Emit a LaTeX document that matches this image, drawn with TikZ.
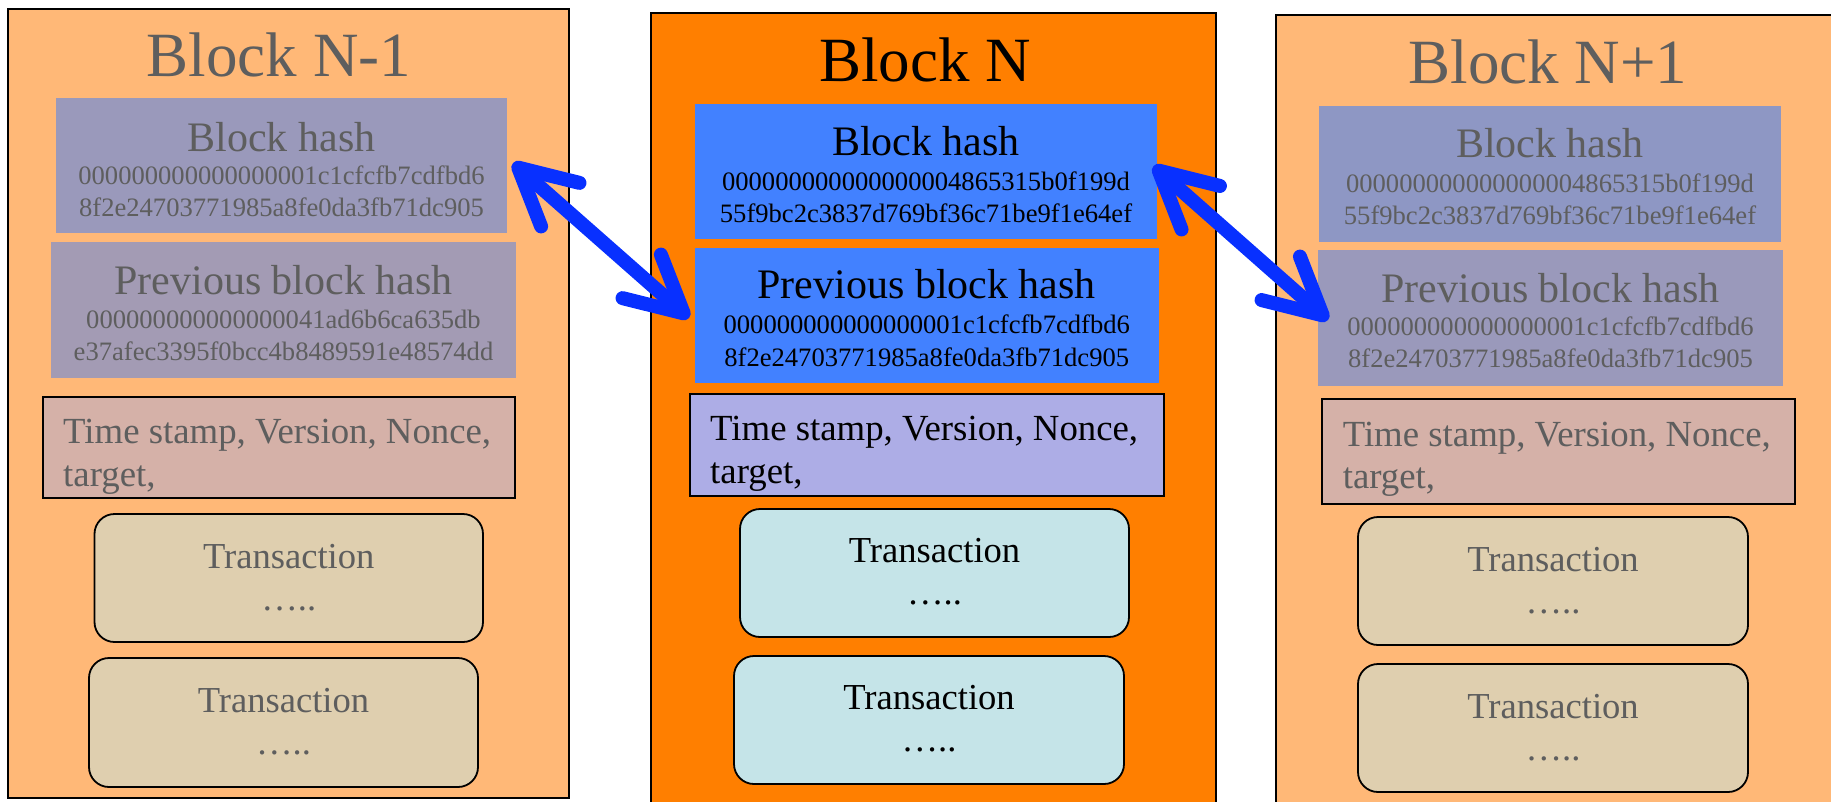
\documentclass[tikz,border=0pt]{standalone}
\usepackage{fontspec}
\setmainfont{Liberation Serif}
\usetikzlibrary{arrows.meta}
\definecolor{sideblk}{RGB}{255,184,119}
\definecolor{midblk}{RGB}{255,127,0}
\definecolor{hashA}{RGB}{154,153,187}
\definecolor{prevA}{RGB}{163,155,180}
\definecolor{hashC}{RGB}{142,151,196}
\definecolor{prevC}{RGB}{154,153,187}
\definecolor{hashB}{RGB}{66,129,255}
\definecolor{infoB}{RGB}{173,173,230}
\definecolor{infoS}{RGB}{213,177,168}
\definecolor{txS}{RGB}{223,207,175}
\definecolor{txB}{RGB}{197,228,232}
\definecolor{sidetext}{RGB}{94,94,94}
\definecolor{arrowblue}{RGB}{8,48,255}
\begin{document}
\begin{tikzpicture}[x=1pt,y=-1pt,
  blockbox/.style={draw=black, line width=1.8pt, anchor=north west, inner sep=0pt, outer sep=0pt},
  hashbox/.style={draw=none, anchor=north west, inner sep=0pt, outer sep=0pt},
  infobox/.style={draw=black, line width=1.8pt, anchor=north west, inner sep=0pt, outer sep=0pt},
  txbox/.style={draw=black, line width=1.8pt, rounded corners=20pt, anchor=north west, inner sep=0pt, outer sep=0pt},
  titletext/.style={anchor=base, inner sep=0pt, font=\fontsize{63}{70}\selectfont},
  headtext/.style={anchor=base, inner sep=0pt, font=\fontsize{42}{48}\selectfont},
  hashtext/.style={anchor=base, inner sep=0pt, font=\fontsize{26.6}{32}\selectfont},
  infotext/.style={anchor=base west, inner sep=0pt, font=\fontsize{36.8}{43}\selectfont},
  txtext/.style={anchor=base, inner sep=0pt, font=\fontsize{36.6}{43}\selectfont},
  link/.style={line width=14pt, color=arrowblue, line cap=round,
    {Straight Barb[length=56pt,width=58pt,round]}-{Straight Barb[length=56pt,width=58pt,round]}}
]
\clip (0,0) rectangle (1831,801);
\useasboundingbox (0,0) rectangle (1831,801);

% ---------------- Block N-1 ----------------
\node[blockbox, fill=sideblk, minimum width=561pt, minimum height=789pt] (blkA) at (8,9) {};
\node[titletext, text=sidetext] (titleA) at (279,76) {Block N-1};
\node[hashbox, fill=hashA, minimum width=451pt, minimum height=135pt] (bhA) at (56,98) {};
\node[headtext, text=sidetext] (bhAt) at ([shift={(0,53)}]bhA.north) {Block hash};
\node[hashtext, text=sidetext] (bhA1) at ([shift={(0,86)}]bhA.north) {000000000000000001c1cfcfb7cdfbd6};
\node[hashtext, text=sidetext] (bhA2) at ([shift={(0,118)}]bhA.north) {8f2e24703771985a8fe0da3fb71dc905};
\node[hashbox, fill=prevA, minimum width=465pt, minimum height=136pt] (phA) at (51,242) {};
\node[headtext, text=sidetext] (phAt) at ([shift={(0,52)}]phA.north) {Previous block hash};
\node[hashtext, text=sidetext] (phA1) at ([shift={(0,86)}]phA.north) {000000000000000041ad6b6ca635db};
\node[hashtext, text=sidetext] (phA2) at ([shift={(0,118)}]phA.north) {e37afec3395f0bcc4b8489591e48574dd};
\node[infobox, fill=infoS, minimum width=472pt, minimum height=101pt] (tsA) at (43,397) {};
\node[infotext, text=sidetext] (tsA1) at ([shift={(20,46)}]tsA.north west) {Time stamp, Version, Nonce,};
\node[infotext, text=sidetext] (tsA2) at ([shift={(20,89)}]tsA.north west) {target,};
\node[txbox, fill=txS, minimum width=388.5pt, minimum height=128pt] (t1A) at (94.5,514) {};
\node[txtext, text=sidetext] (t1At) at ([shift={(0,54)}]t1A.north) {Transaction};
\node[txtext, text=sidetext] (t1Ad) at ([shift={(0,96)}]t1A.north) {…..};
\node[txbox, fill=txS, minimum width=389pt, minimum height=129pt] (t2A) at (89,658) {};
\node[txtext, text=sidetext] (t2At) at ([shift={(0,54)}]t2A.north) {Transaction};
\node[txtext, text=sidetext] (t2Ad) at ([shift={(0,96)}]t2A.north) {…..};

% ---------------- Block N ----------------
\node[blockbox, fill=midblk, minimum width=565pt, minimum height=820pt] (blkB) at (651,13) {};
\node[titletext, text=black] (titleB) at (925,81) {Block N};
\node[hashbox, fill=hashB, minimum width=462pt, minimum height=135pt] (bhB) at (695,104) {};
\node[headtext] (bhBt) at ([shift={(0,51)}]bhB.north) {Block hash};
\node[hashtext] (bhB1) at ([shift={(0,86)}]bhB.north) {000000000000000004865315b0f199d};
\node[hashtext] (bhB2) at ([shift={(0,118)}]bhB.north) {55f9bc2c3837d769bf36c71be9f1e64ef};
\node[hashbox, fill=hashB, minimum width=464.5pt, minimum height=135pt] (phB) at (694.5,248) {};
\node[headtext] (phBt) at ([shift={(0,50)}]phB.north) {Previous block hash};
\node[hashtext] (phB1) at ([shift={(0,85)}]phB.north) {000000000000000001c1cfcfb7cdfbd6};
\node[hashtext] (phB2) at ([shift={(0,118)}]phB.north) {8f2e24703771985a8fe0da3fb71dc905};
\node[infobox, fill=infoB, minimum width=474pt, minimum height=102pt] (tsB) at (690,394) {};
\node[infotext] (tsB1) at ([shift={(20,46)}]tsB.north west) {Time stamp, Version, Nonce,};
\node[infotext] (tsB2) at ([shift={(20,89)}]tsB.north west) {target,};
\node[txbox, fill=txB, minimum width=389pt, minimum height=128pt] (t1B) at (740,509) {};
\node[txtext] (t1Bt) at ([shift={(0,53)}]t1B.north) {Transaction};
\node[txtext] (t1Bd) at ([shift={(0,95)}]t1B.north) {…..};
\node[txbox, fill=txB, minimum width=390pt, minimum height=128pt] (t2B) at (734,656) {};
\node[txtext] (t2Bt) at ([shift={(0,53)}]t2B.north) {Transaction};
\node[txtext] (t2Bd) at ([shift={(0,95)}]t2B.north) {…..};

% ---------------- Block N+1 ----------------
\node[blockbox, fill=sideblk, minimum width=620pt, minimum height=820pt] (blkC) at (1276,15) {};
\node[titletext, text=sidetext] (titleC) at (1548,83) {Block N+1};
\node[hashbox, fill=hashC, minimum width=462pt, minimum height=136pt] (bhC) at (1319,106) {};
\node[headtext, text=sidetext] (bhCt) at ([shift={(0,51)}]bhC.north) {Block hash};
\node[hashtext, text=sidetext] (bhC1) at ([shift={(0,86)}]bhC.north) {000000000000000004865315b0f199d};
\node[hashtext, text=sidetext] (bhC2) at ([shift={(0,118)}]bhC.north) {55f9bc2c3837d769bf36c71be9f1e64ef};
\node[hashbox, fill=prevC, minimum width=465pt, minimum height=136pt] (phC) at (1318,250) {};
\node[headtext, text=sidetext] (phCt) at ([shift={(0,52)}]phC.north) {Previous block hash};
\node[hashtext, text=sidetext] (phC1) at ([shift={(0,85)}]phC.north) {000000000000000001c1cfcfb7cdfbd6};
\node[hashtext, text=sidetext] (phC2) at ([shift={(0,117)}]phC.north) {8f2e24703771985a8fe0da3fb71dc905};
\node[infobox, fill=infoS, minimum width=473pt, minimum height=105pt] (tsC) at (1322,399) {};
\node[infotext, text=sidetext] (tsC1) at ([shift={(20.6,47)}]tsC.north west) {Time stamp, Version, Nonce,};
\node[infotext, text=sidetext] (tsC2) at ([shift={(20.6,89)}]tsC.north west) {target,};
\node[txbox, fill=txS, minimum width=390pt, minimum height=128pt] (t1C) at (1358,517) {};
\node[txtext, text=sidetext] (t1Ct) at ([shift={(0,54)}]t1C.north) {Transaction};
\node[txtext, text=sidetext] (t1Cd) at ([shift={(0,96)}]t1C.north) {…..};
\node[txbox, fill=txS, minimum width=390pt, minimum height=128pt] (t2C) at (1358,664) {};
\node[txtext, text=sidetext] (t2Ct) at ([shift={(0,54)}]t2C.north) {Transaction};
\node[txtext, text=sidetext] (t2Cd) at ([shift={(0,96)}]t2C.north) {…..};

% ---------------- links ----------------
\draw[link] ([shift={(6,-2.5)}]bhA.east) -- ([shift={(-5.5,2.5)}]phB.west);
\draw[link] ([shift={(-3.5,-5.5)}]bhB.east) -- ([shift={(10,2)}]phC.west);
\end{tikzpicture}
\end{document}
